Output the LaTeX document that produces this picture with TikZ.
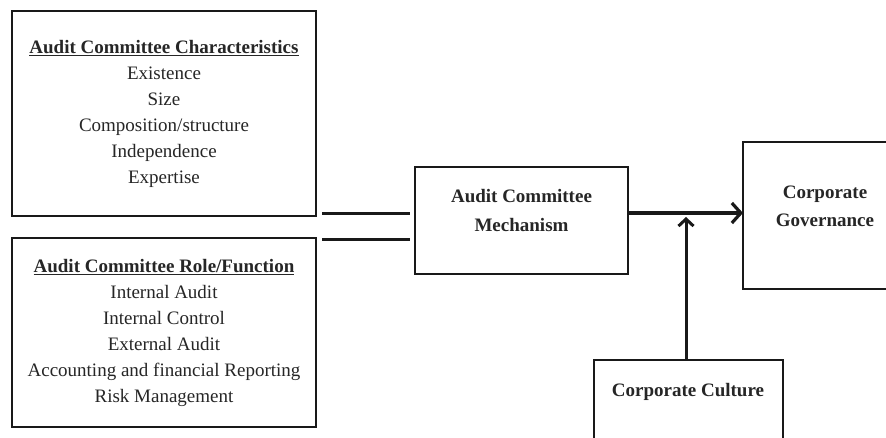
\documentclass[tikz,border=0pt]{standalone}
\usepackage{fontspec}
\setmainfont{Liberation Serif}
\usetikzlibrary{arrows.meta}
\newsavebox\ulbox
\newcommand{\hdul}[1]{\sbox\ulbox{#1}\rlap{\raisebox{-3.4pt}{\rule{\wd\ulbox}{1.6pt}}}\usebox\ulbox}
\begin{document}
\begin{tikzpicture}[x=1pt,y=-1pt,
  frame/.style={draw=black!90, line width=2.8pt, inner sep=0pt, outer sep=0pt},
  txt/.style={font=\fontsize{19}{26}\selectfont, text=black!85, align=center, inner sep=0pt},
  boldtxt/.style={font=\fontsize{19}{29}\selectfont\bfseries, text=black!85, align=center, inner sep=0pt},
  link/.style={line width=3pt, draw=black!90},
  arr/.style={line width=3.2pt, draw=black!90, -{Straight Barb[length=9pt,width=20pt]}},
  arrsmall/.style={line width=3pt, draw=black!90, -{Straight Barb[length=7pt,width=15pt]}}]
\useasboundingbox (0,0) rectangle (886,438);
\clip (0,0) rectangle (886,438);
\fill[white] (0,0) rectangle (886,438);
% left boxes
\node[frame, txt, minimum width=304pt, minimum height=205pt] (ch) at (164,113.5)
  {\textbf{\hdul{Audit Committee Characteristics}}\\Existence\\Size\\Composition/structure\\Independence\\Expertise};
\node[frame, txt, minimum width=304pt, minimum height=189pt] (rf) at (164,332.5)
  {\textbf{\hdul{Audit Committee Role/Function}}\\Internal Audit\\Internal Control\\External Audit\\Accounting and financial Reporting\\Risk Management};
% mechanism
\node[frame, minimum width=213pt, minimum height=107pt] (mech) at (521.5,220.5) {};
\node[boldtxt] (mecht) at (521.5,211) {Audit Committee\\Mechanism};
% governance
\node[frame, minimum width=162pt, minimum height=147pt] (gov) at (824,215.5) {};
\node[boldtxt, font=\fontsize{19}{28}\selectfont\bfseries] (govt) at (825,206) {Corporate\\Governance};
% culture
\node[frame, minimum width=189pt, minimum height=110pt] (cult) at (688.5,415) {};
\node[boldtxt] (cultt) at (688,392) {Corporate Culture};
% connectors
\coordinate (l1s) at (322,214);
\coordinate (l1e) at (410,214);
\coordinate (l2s) at (322,240);
\coordinate (l2e) at (410,240);
\draw[link] (l1s) -- (l1e);
\draw[link] (l2s) -- (l2e);
\draw[arr] (mech.east |- 0,213) -- (gov.west |- 0,213);
\coordinate (junc) at (686,217);
\draw[arrsmall] (cult.north -| junc) -- (junc);
\end{tikzpicture}
\end{document}
